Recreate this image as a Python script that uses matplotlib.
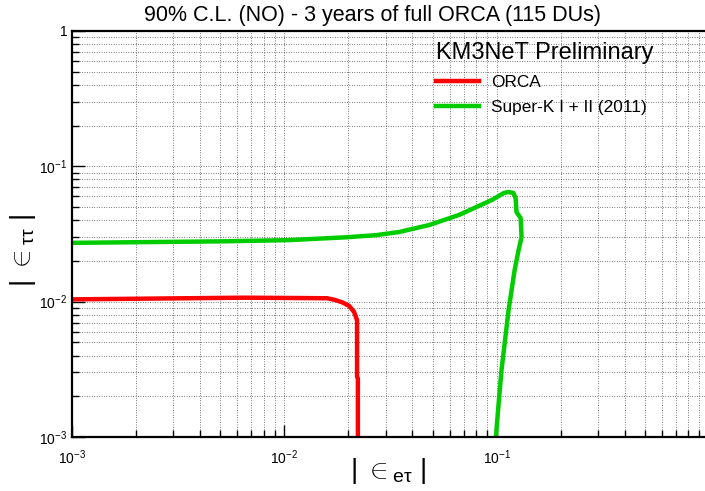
import matplotlib.pyplot as plt
from matplotlib.ticker import LogLocator, FixedFormatter, FixedLocator, NullFormatter

plt.rcParams["font.family"] = ["Liberation Sans", "DejaVu Sans"]
plt.rcParams["mathtext.fontset"] = "custom"
plt.rcParams["mathtext.rm"] = "Liberation Sans"
plt.rcParams["mathtext.it"] = "Liberation Sans"
plt.rcParams["mathtext.sf"] = "Liberation Sans"

# ORCA 90% C.L. contour (|eps_et|, |eps_tt|)
orca_x = [0.001, 0.0065, 0.0159, 0.0173, 0.0187, 0.0202, 0.0213, 0.0220,
          0.0220, 0.0220, 0.0222, 0.0222]
orca_y = [0.0104, 0.0107, 0.0106, 0.0103, 0.0099, 0.0093, 0.0084, 0.0073,
          0.0062, 0.0028, 0.0027, 0.00095]

# Super-K I + II (2011) contour
sk_x = [0.001, 0.0050, 0.0105, 0.0195, 0.0270, 0.0347, 0.048, 0.0664,
        0.0949, 0.108, 0.1138, 0.120, 0.1228, 0.124, 0.1297, 0.131,
        0.1268, 0.1215, 0.1138, 0.1054, 0.102, 0.0989]
sk_y = [0.0272, 0.0279, 0.0285, 0.0299, 0.0310, 0.0327, 0.0368, 0.0437,
        0.0564, 0.0635, 0.0646, 0.0635, 0.0583, 0.0459, 0.0415, 0.0300,
        0.0240, 0.0171, 0.00867, 0.00312, 0.00172, 0.00095]

decades = [1e-3, 1e-2, 1e-1, 1]
decade_labels = [r"$10^{-3}$", r"$10^{-2}$", r"$10^{-1}$", "1"]

fig = plt.figure(figsize=(7.05, 4.91), dpi=100)
ax = fig.add_axes([72 / 705, 1 - 437 / 491, 637 / 705, 406 / 491])

ax.plot(orca_x, orca_y, color="#ff0000", lw=3.2, label="ORCA")
ax.plot(sk_x, sk_y, color="#00cc00", lw=3.2, label="Super-K I + II (2011)")

ax.set_xscale("log")
ax.set_yscale("log")
ax.set_xlim(1e-3, 1)
ax.set_ylim(1e-3, 1)

for a in (ax.xaxis, ax.yaxis):
    a.set_major_locator(FixedLocator(decades))
    a.set_major_formatter(FixedFormatter(decade_labels))
    a.set_minor_locator(LogLocator(base=10, subs=range(2, 10), numticks=10))
    a.set_minor_formatter(NullFormatter())

ax.grid(True, which="both", color="black", linestyle=(0, (1, 2.5)), lw=0.5)
ax.tick_params(which="major", direction="in", length=9, width=1, labelsize=10)
ax.tick_params(axis="x", which="major", pad=8)
ax.tick_params(which="minor", direction="in", length=5, width=1)
for s in ax.spines.values():
    s.set_linewidth(1.6)

ax.set_title("90% C.L. (NO) - 3 years of full ORCA (115 DUs)", fontsize=15.5,
             pad=7, x=(373 - 72) / 637)
ax.set_xlabel(r"$|\ \in_{e\tau}\ |$", fontsize=20)
ax.xaxis.set_label_coords((388 - 72) / 637, -(456 - 437) / 406)
ax.set_ylabel(r"$|\ \in_{\tau\tau}\ |$", fontsize=20)
ax.yaxis.set_label_coords(-(72 - 38) / 637, (437 - 250) / 406)

leg = fig.legend(loc="upper left", bbox_to_anchor=(424 / 705, 1 - 30 / 491),
                 frameon=False, fontsize=12.4, title="KM3NeT Preliminary",
                 title_fontsize=17, handlelength=2.5, handletextpad=0.7,
                 labelspacing=0.55, alignment="left", borderpad=0.2)
leg._legend_box.sep = 8

fig.savefig("out.png", dpi=100)
